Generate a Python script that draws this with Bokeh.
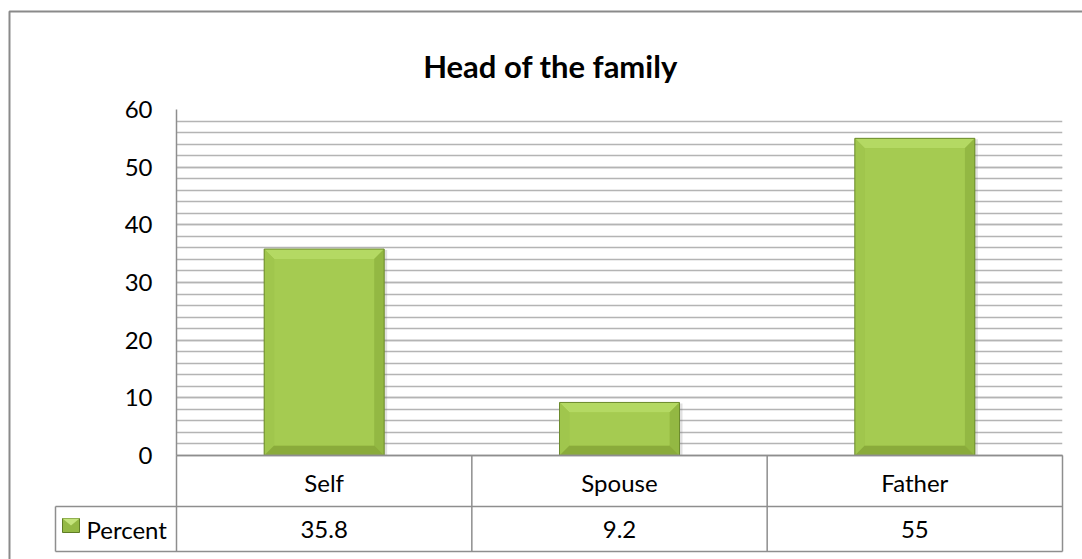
from bokeh.plotting import figure
from bokeh.models import FactorRange, Range1d, FixedTicker
from bokeh.embed import file_html
from bokeh.resources import INLINE
from bokeh.core.properties import value

# ---------------- data ----------------
title_text = "Head of the family"
categories = ["Self", "Spouse", "Father"]
percent = [35.8, 9.2, 55]
series_name = "Percent"
y_ticks = [0, 10, 20, 30, 40, 50, 60]
y_minor = list(range(0, 61, 2))

# ---------------- layout (figure pixels) ----------------
FONT = "Lato"
LBL = "24px"
W, H = 1082, 559
PL, PR, PT, PB = 176, 1062, 109, 455      # plot frame edges
ROW1_B, ROW2_B = 506, 551                 # table row bottoms
HEAD_L = 55                               # table row-header left
Y_MAX = y_ticks[-1]
n = len(categories)
px_x = (PR - PL) / n
px_y = (PB - PT) / Y_MAX


def xd(px):
    return (px - PL) / px_x


def yd(py):
    return (PB - py) / px_y


GRID = "#b4b4b4"
TABLE = "#8e8e8e"

p = figure(width=W, height=H, output_backend="svg", toolbar_location=None,
           x_range=FactorRange(*categories, range_padding=0, factor_padding=0),
           y_range=Range1d(0, Y_MAX),
           min_border_left=PL, min_border_right=W - PR,
           min_border_top=PT, min_border_bottom=H - PB)
p.outline_line_color = None
p.background_fill_color = "white"
p.border_fill_color = "white"

# y axis
p.yaxis.ticker = FixedTicker(ticks=y_ticks, minor_ticks=y_minor)
p.yaxis.major_label_text_font = FONT
p.yaxis.major_label_text_font_size = LBL
p.yaxis.major_label_text_color = "black"
p.yaxis.major_label_standoff = 24
p.yaxis.major_tick_out = 0
p.yaxis.major_tick_in = 0
p.yaxis.minor_tick_out = 0
p.yaxis.minor_tick_in = 0
p.yaxis.axis_line_color = TABLE
p.yaxis.axis_line_width = 1.5

# x axis = category row of the data table
p.xaxis.major_label_text_font = FONT
p.xaxis.major_label_text_font_size = LBL
p.xaxis.major_label_text_color = "black"
p.xaxis.major_label_standoff = 12
p.xaxis.major_tick_out = 0
p.xaxis.major_tick_in = 0
p.xaxis.minor_tick_out = 0
p.xaxis.axis_line_color = TABLE
p.xaxis.axis_line_width = 1.5

p.xgrid.grid_line_color = None
p.ygrid.grid_line_color = GRID
p.ygrid.grid_line_width = 1.5
p.ygrid.minor_grid_line_color = GRID
p.ygrid.minor_grid_line_width = 1.5

# ---------------- bars ----------------
centers = [i + 0.5 for i in range(n)]
bar_w = 120 / px_x
hw = bar_w / 2
bx = 10 / px_x
by = 10 / px_y

# shadow
p.vbar(x=[c + 3 / px_x for c in centers], top=[v - 1 / px_y for v in percent],
       bottom=-2 / px_y, width=bar_w, fill_color="#777777", fill_alpha=0.22, line_color=None)
# base
p.vbar(x=categories, top=percent, width=bar_w, fill_color="#9cc249", line_color=None)
# bevel faces
top_xs, top_ys, l_xs, l_ys, r_xs, r_ys, b_xs, b_ys = [], [], [], [], [], [], [], []
for c, v in zip(centers, percent):
    top_xs.append([c - hw, c + hw, c + hw - bx, c - hw + bx])
    top_ys.append([v, v, v - by, v - by])
    l_xs.append([c - hw, c - hw + bx, c - hw + bx, c - hw])
    l_ys.append([v, v - by, by, 0])
    r_xs.append([c + hw, c + hw - bx, c + hw - bx, c + hw])
    r_ys.append([v, v - by, by, 0])
    b_xs.append([c - hw, c + hw, c + hw - bx, c - hw + bx])
    b_ys.append([0, 0, by, by])
p.patches(top_xs, top_ys, fill_color="#b4d963", line_color=None)
p.patches(l_xs, l_ys, fill_color="#a0c64d", line_color=None)
p.patches(r_xs, r_ys, fill_color="#93b843", line_color=None)
p.patches(b_xs, b_ys, fill_color="#8aab3b", line_color=None)
p.vbar(x=categories, top=[v - by for v in percent], bottom=by, width=bar_w - 2 * bx,
       fill_color="#a5cb51", line_color=None)
p.vbar(x=categories, top=percent, width=bar_w, fill_color=None,
       line_color="#6c8b2d", line_width=1)

# ---------------- data table ----------------
x0, x1 = xd(HEAD_L), float(n)
r1, r2 = yd(ROW1_B), yd(ROW2_B)
seg_x0 = [0, x0, x0] + [x0] + [float(i) for i in range(n + 1)]
seg_x1 = [x1, x1, x1] + [x0] + [float(i) for i in range(n + 1)]
seg_y0 = [0, r1, r2] + [r1] + [0] * (n + 1)
seg_y1 = [0, r1, r2] + [r2] + [r2] * (n + 1)
p.segment(x0=seg_x0, y0=seg_y0, x1=seg_x1, y1=seg_y1, line_color=TABLE,
          line_width=1.5, level="overlay")

row2_mid = (r1 + r2) / 2
p.text(x=categories, y=[row2_mid] * n, text=[f"{v:g}" for v in percent],
       text_font=value(FONT), text_font_size=LBL, text_color="black",
       text_align="center", text_baseline="middle", level="overlay")

# legend key + series name
p.quad(left=[xd(62)], right=[xd(79)], top=[yd(518)], bottom=[yd(532)],
       fill_color="#94b944", line_color="#5f7d25", line_width=1, level="overlay")
p.patch([xd(62), xd(79), xd(70.5)], [yd(518), yd(518), yd(525)],
        fill_color="#c4e47c", line_color=None, level="overlay")
p.text(x=[xd(86)], y=[row2_mid], text=[series_name], text_font=value(FONT),
       text_font_size=LBL, text_color="black", text_align="left",
       text_baseline="middle", level="overlay")

# chart area border
p.quad(left=[xd(9)], right=[xd(W + 20)], top=[yd(11)], bottom=[yd(H + 20)],
       fill_color=None, line_color="#8a8a8a", line_width=2, level="overlay")

# title
p.text(x=[xd(550)], y=[yd(65)], text=[title_text], text_font=value(FONT),
       text_font_size="31px", text_font_style="bold", text_color="black",
       text_align="center", text_baseline="alphabetic", level="overlay")

open("out.html", "w").write(file_html(p, INLINE))
